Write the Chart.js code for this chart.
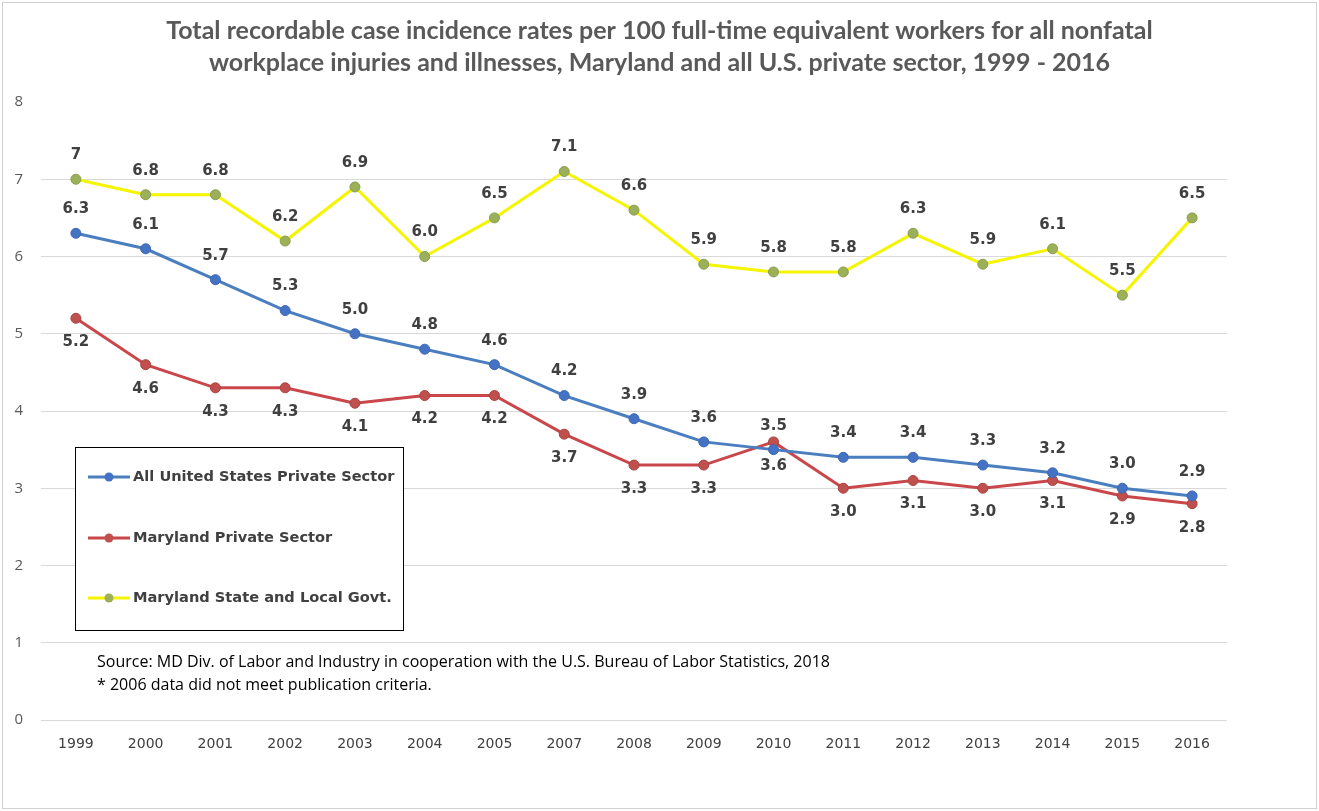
<!DOCTYPE html>
<html>
<head>
<meta charset="utf-8">
<script src="https://cdn.jsdelivr.net/npm/chart.js@4/dist/chart.umd.min.js"></script>
<style>
  html, body { margin: 0; padding: 0; background: #ffffff; }
  #wrap { width: 1319px; height: 811px; position: relative; }
</style>
</head>
<body>
<div id="wrap"><canvas id="c" width="1319" height="811"></canvas></div>
<script>
// ---- Data ----
const years = ['1999','2000','2001','2002','2003','2004','2005','2007','2008','2009','2010','2011','2012','2013','2014','2015','2016'];
const usPrivate = [6.3, 6.1, 5.7, 5.3, 5.0, 4.8, 4.6, 4.2, 3.9, 3.6, 3.5, 3.4, 3.4, 3.3, 3.2, 3.0, 2.9];
const mdPrivate = [5.2, 4.6, 4.3, 4.3, 4.1, 4.2, 4.2, 3.7, 3.3, 3.3, 3.6, 3.0, 3.1, 3.0, 3.1, 2.9, 2.8];
const mdGovt    = [7.0, 6.8, 6.8, 6.2, 6.9, 6.0, 6.5, 7.1, 6.6, 5.9, 5.8, 5.8, 6.3, 5.9, 6.1, 5.5, 6.5];
const seriesNames = ['All United States Private Sector', 'Maryland Private Sector', 'Maryland State and Local Govt.'];
const yTicks = [0, 1, 2, 3, 4, 5, 6, 7, 8];
const titleLines = [
  'Total recordable case incidence rates per 100 full-time equivalent workers for all nonfatal',
  'workplace injuries and illnesses, Maryland and all U.S. private sector, 1999 - 2016'
];
const sourceLines = [
  'Source: MD Div. of Labor and Industry in cooperation with the U.S. Bureau of Labor Statistics, 2018',
  '* 2006 data did not meet publication criteria.'
];

// ---- Plugins ----
const frame = {
  id: 'frame',
  beforeDraw(chart) {
    const ctx = chart.ctx;
    ctx.save();
    ctx.fillStyle = '#ffffff';
    ctx.fillRect(0, 0, chart.width, chart.height);
    ctx.strokeStyle = '#d0d0d0';
    ctx.lineWidth = 1;
    ctx.strokeRect(2.5, 2.5, chart.width - 5, chart.height - 5);
    // title, centred on the whole picture
    ctx.fillStyle = '#595959';
    ctx.font = 'bold 25px Lato';
    ctx.textAlign = 'center';
    ctx.textBaseline = 'middle';
    ctx.fillText(titleLines[0], chart.width / 2, 31);
    ctx.fillText(titleLines[1], chart.width / 2, 63);
    ctx.restore();
  }
};

const dataLabels = {
  id: 'dataLabels',
  afterDatasetsDraw(chart) {
    const ctx = chart.ctx;
    ctx.save();
    ctx.font = 'bold 15px "DejaVu Sans"';
    ctx.fillStyle = '#404040';
    ctx.textAlign = 'center';
    ctx.textBaseline = 'middle';
    chart.data.datasets.forEach((ds, di) => {
      const meta = chart.getDatasetMeta(di);
      meta.data.forEach((pt, i) => {
        const v = ds.data[i];
        const txt = (di === 2 && v === 7) ? '7' : v.toFixed(1);
        const dy = ds.labelPos === 'below' ? 24 : -24;
        ctx.fillText(txt, pt.x, pt.y + dy);
      });
    });
    ctx.restore();
  }
};

const boxLegend = {
  id: 'boxLegend',
  beforeDatasetsDraw(chart) {
    const ctx = chart.ctx;
    const x0 = 75.5, y0 = 447.5, w = 328, h = 183;
    ctx.save();
    ctx.fillStyle = '#ffffff';
    ctx.fillRect(x0, y0, w, h);
    ctx.strokeStyle = '#000000';
    ctx.lineWidth = 1;
    ctx.strokeRect(x0, y0, w, h);
    const rowY = [477, 538, 598];
    chart.data.datasets.forEach((ds, di) => {
      const y = rowY[di];
      ctx.strokeStyle = ds.borderColor;
      ctx.lineWidth = 3;
      ctx.beginPath();
      ctx.moveTo(88, y);
      ctx.lineTo(130, y);
      ctx.stroke();
      ctx.fillStyle = ds.pointBackgroundColor;
      ctx.beginPath();
      ctx.arc(109, y, 4.5, 0, Math.PI * 2);
      ctx.fill();
      ctx.fillStyle = '#404040';
      ctx.font = 'bold 14.6px "DejaVu Sans"';
      ctx.textAlign = 'left';
      ctx.textBaseline = 'middle';
      ctx.fillText(ds.label, 133, y);
    });
    ctx.restore();
  }
};

const sourceNote = {
  id: 'sourceNote',
  afterDraw(chart) {
    const ctx = chart.ctx;
    ctx.save();
    ctx.fillStyle = '#000000';
    ctx.font = '16px "Open Sans"';
    ctx.textAlign = 'left';
    ctx.textBaseline = 'middle';
    ctx.fillText(sourceLines[0], 97, 662);
    ctx.fillText(sourceLines[1], 97, 685);
    ctx.restore();
  }
};

// ---- Chart ----
new Chart(document.getElementById('c'), {
  type: 'line',
  data: {
    labels: years,
    datasets: [
      {
        label: seriesNames[0], data: usPrivate, labelPos: 'above',
        borderColor: '#4A7EBF', backgroundColor: '#4472C4',
        pointBackgroundColor: '#4472C4', pointBorderColor: '#3F68B0',
        borderWidth: 3, pointRadius: 5, pointBorderWidth: 1, tension: 0
      },
      {
        label: seriesNames[1], data: mdPrivate, labelPos: 'below',
        borderColor: '#C9474A', backgroundColor: '#C0504D',
        pointBackgroundColor: '#C0504D', pointBorderColor: '#A94341',
        borderWidth: 3, pointRadius: 5, pointBorderWidth: 1, tension: 0
      },
      {
        label: seriesNames[2], data: mdGovt, labelPos: 'above',
        borderColor: '#F5F500', backgroundColor: '#9BB059',
        pointBackgroundColor: '#9BB059', pointBorderColor: '#8A9E4C',
        borderWidth: 3, pointRadius: 5, pointBorderWidth: 1, tension: 0
      }
    ]
  },
  options: {
    responsive: false,
    animation: false,
    layout: { padding: { left: 0, right: 92, top: 102, bottom: 0 } },
    plugins: {
      legend: { display: false },
      tooltip: { enabled: false },
      title: { display: false }
    },
    scales: {
      x: {
        offset: true,
        grid: { display: false },
        border: { display: false },
        ticks: {
          color: '#404040', font: { family: 'DejaVu Sans', size: 14 },
          padding: 8, maxRotation: 0, autoSkip: false
        },
        afterFit(scale) { scale.height = 91; }
      },
      y: {
        min: 0, max: 8,
        afterBuildTicks(scale) { scale.ticks = yTicks.map(v => ({ value: v })); },
        grid: {
          drawTicks: false,
          color: ctx => (ctx.tick && ctx.tick.value === 8) ? 'rgba(0,0,0,0)' : '#D9D9D9',
          lineWidth: 1
        },
        border: { display: false },
        ticks: { color: '#595959', font: { family: 'Open Sans', size: 15 }, padding: 18 },
        afterFit(scale) { scale.width = 41; }
      }
    }
  },
  plugins: [frame, boxLegend, dataLabels, sourceNote]
});
</script>
</body>
</html>
